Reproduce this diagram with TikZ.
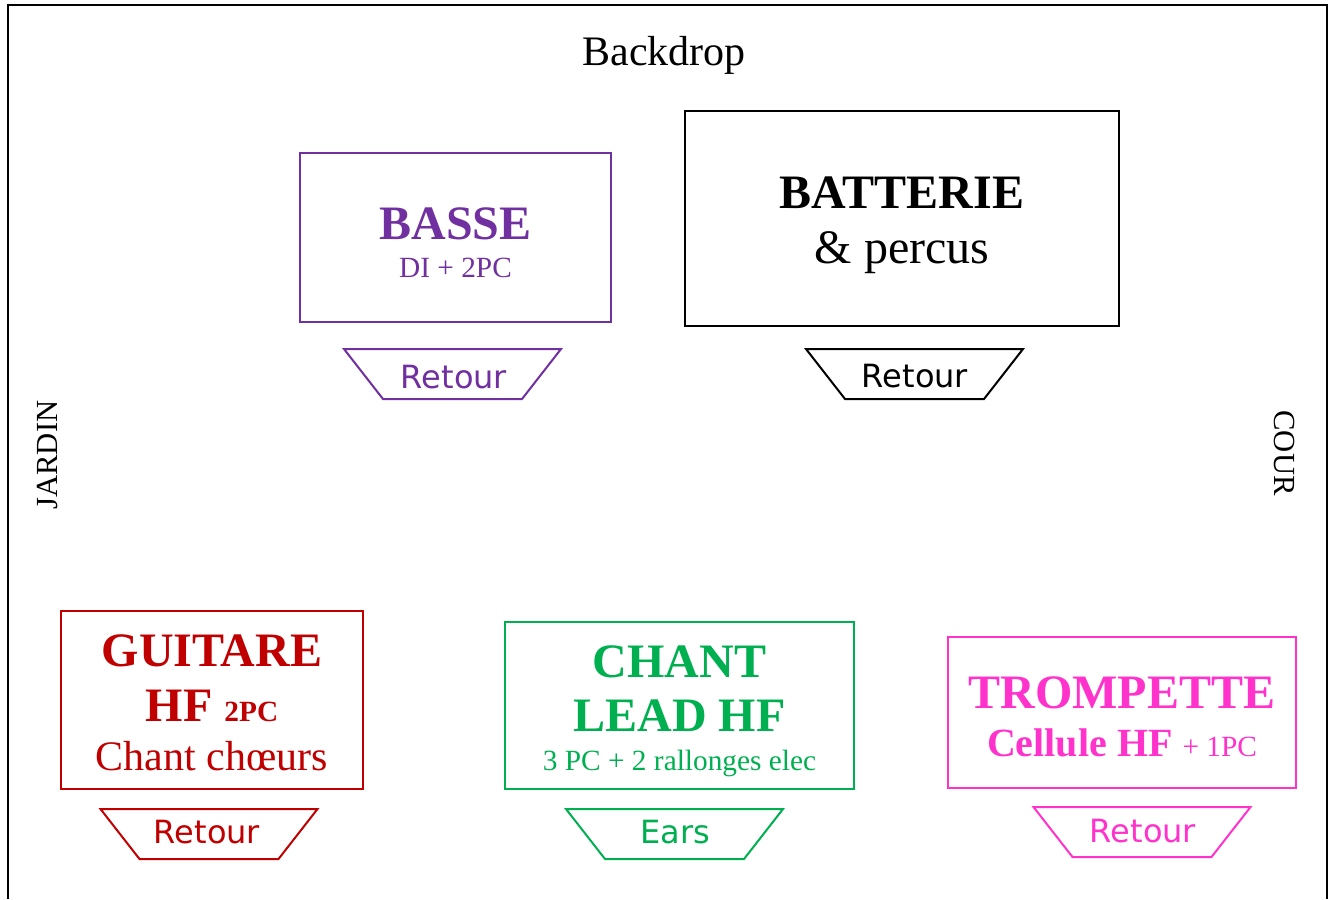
\documentclass[tikz,border=0pt]{standalone}
\usepackage{fontspec}
\setmainfont{Liberation Serif}
\newfontfamily\retourfont{DejaVu Sans}
\definecolor{bassecol}{HTML}{7030A0}
\definecolor{guitarecol}{HTML}{C00000}
\definecolor{chantcol}{HTML}{00B050}
\definecolor{trompcol}{HTML}{FF33CC}
\newcommand{\titre}{\bfseries\fontsize{36}{40}\selectfont}
\newcommand{\petit}{\fontsize{22}{28}\selectfont}
\newcommand{\haut}[1]{\rule{0pt}{#1}}
\begin{document}
\begin{tikzpicture}[x=0.75pt,y=-0.75pt,
  zone/.style={draw,line width=0.8pt,align=center,inner sep=0pt},
  retour/.style={font=\retourfont\fontsize{24}{28}\selectfont,inner sep=0pt},
  cote/.style={font=\fontsize{23}{27}\selectfont}]
\useasboundingbox (0,0) rectangle (1330,899);
\draw[line width=1.5pt] (8,899) -- (8,5) -- (1327,5) -- (1327,899);
\node (backdrop) at (664,55) {\fontsize{31.5}{36}\selectfont Backdrop};
\node[cote,rotate=90] (jardin) at (48,455) {JARDIN};
\node[cote,rotate=-90] (cour) at (1284,453) {COUR};
\node[zone,bassecol,font=\fontsize{10}{28.7}\selectfont,minimum width=233.25pt,minimum height=126.75pt] (basse) at (455.5,237.5)
  {{\titre\haut{32pt}BASSE}\\{\petit DI + 2PC}};
\node[zone,black,font=\fontsize{10}{41.3}\selectfont,minimum width=325.5pt,minimum height=161.25pt] (batterie) at (902,218.5)
  {{\titre\haut{34pt}BATTERIE}\\{\fontsize{36}{40}\selectfont \& percus}};
\node[zone,guitarecol,font=\fontsize{10}{41.5}\selectfont,minimum width=226.5pt,minimum height=133.5pt] (guitare) at (212,700)
  {{\titre\haut{28pt}GUITARE}\\{\titre HF {\petit 2PC}}\\[-4.5pt]{\fontsize{31.5}{38}\selectfont Chant chœurs}};
\node[zone,chantcol,font=\fontsize{10}{40.5}\selectfont,minimum width=261.75pt,minimum height=125.25pt] (chant) at (679.5,705.5)
  {{\titre\haut{32pt}CHANT}\\{\titre LEAD HF}\\[-11.5pt]{\petit 3 PC + 2 rallonges elec}};
\node[zone,trompcol,font=\fontsize{10}{35.8}\selectfont,minimum width=261pt,minimum height=113.25pt] (trompette) at (1122,712.5)
  {{\titre\haut{30pt}TROMPETTE}\\{\bfseries\fontsize{30}{36}\selectfont Cellule HF }{\petit + 1PC}};
\node[retour,bassecol] (retbasse) at (454,377) {Retour};
\node[retour,black] (retbatterie) at (915,376) {Retour};
\node[retour,guitarecol] (retguitare) at (207,832) {Retour};
\node[retour,chantcol] (retchant) at (675,832) {Ears};
\node[retour,trompcol] (rettrompette) at (1143,831) {Retour};
\foreach \n/\c/\x/\y in {retbasse/bassecol/452.5/374, retbatterie/black/914.5/374,
    retguitare/guitarecol/209/834, retchant/chantcol/674.5/834, rettrompette/trompcol/1142/832}
  \draw[\c,line width=1.5pt] (\x-108.5,\y-25) -- (\x+108.5,\y-25) -- (\x+69.5,\y+25) -- (\x-69.5,\y+25) -- cycle;
\end{tikzpicture}
\end{document}
